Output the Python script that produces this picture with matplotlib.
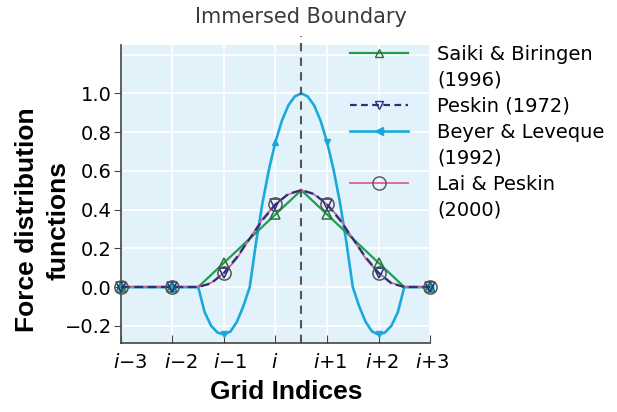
import numpy as np
import matplotlib.pyplot as plt
import matplotlib.transforms as mtransforms
from matplotlib.lines import Line2D
from matplotlib.ticker import FixedLocator

plt.rcParams['font.family'] = ['DejaVu Sans']
plt.rcParams['mathtext.fontset'] = 'custom'
plt.rcParams['mathtext.it'] = 'DejaVu Sans:italic'
plt.rcParams['mathtext.rm'] = 'DejaVu Sans'

# grid indices, i = 0
grid_pos = [-3, -2, -1, 0, 1, 2, 3]
tick_labels = [r'$i$−3', r'$i$−2', r'$i$−1', r'$i$', r'$i$+1', r'$i$+2', r'$i$+3']
boundary_x = 0.5

# Saiki & Biringen (1996) - hat function
saiki_x = [-3, -1.5, 0.5, 2.5, 3]
saiki_y = [0, 0, 0.5, 0, 0]
saiki_pts = [0, 0, 0.125, 0.375, 0.375, 0.125, 0]

# Peskin (1972) and Lai & Peskin (2000), sampled every 0.25 from i-1.5 to i+2.5
fine_x = [-3, -2] + list(np.arange(-1.5, 2.51, 0.25)) + [3]
peskin_y = [0, 0,
            0, 0.019, 0.073, 0.154, 0.25, 0.346, 0.427, 0.481, 0.5,
            0.481, 0.427, 0.346, 0.25, 0.154, 0.073, 0.019, 0,
            0]
peskin_pts = [0, 0, 0.073, 0.427, 0.427, 0.073, 0]
lai_y = [0, 0,
         0, 0.022, 0.073, 0.147, 0.25, 0.353, 0.427, 0.478, 0.5,
         0.478, 0.427, 0.353, 0.25, 0.147, 0.073, 0.022, 0,
         0]
lai_pts = [0, 0, 0.073, 0.427, 0.427, 0.073, 0]

# Beyer & Leveque (1992), sampled every 0.125
beyer_x = [-3, -2] + list(np.arange(-1.5, 2.51, 0.125)) + [3]
beyer_y = [0, 0,
           0, -0.13, -0.20, -0.235, -0.245, -0.23, -0.18, -0.10,
           0, 0.234, 0.438, 0.609, 0.75, 0.859, 0.938, 0.984, 1.0,
           0.984, 0.938, 0.859, 0.75, 0.609, 0.438, 0.234, 0,
           -0.10, -0.18, -0.23, -0.245, -0.235, -0.20, -0.13, 0,
           0]
beyer_pts = [0, 0, -0.245, 0.75, 0.75, -0.245, 0]
beyer_marks = ['o', 'o', 'v', '^', 'v', 'v', 'o']

green = '#1f9e4f'
navy = '#2b2f7c'
cyan = '#1ba9dc'
pink = '#d8609a'
gray = '#555555'

fig = plt.figure(figsize=(6.17, 4.12), dpi=100)
ax = fig.add_axes([0.196, 0.167, 0.501, 0.724])
ax.set_facecolor('#e2f2fb')

ax.plot(beyer_x, beyer_y, color=cyan, lw=1.9, zorder=3)
for xp, yp, m in zip(grid_pos, beyer_pts, beyer_marks):
    ax.plot(xp, yp, marker=m, color=cyan, ms=5, mec=cyan, zorder=4, clip_on=False)
ax.plot(saiki_x, saiki_y, color=green, lw=1.6, zorder=3)
ax.plot(grid_pos, saiki_pts, ls='none', marker='^', ms=6.5, mfc='none', mec='#2c6e3c', mew=1.1, zorder=5, clip_on=False)
ax.plot(fine_x, lai_y, color=pink, lw=1.3, zorder=3)
ax.plot(fine_x, peskin_y, color=navy, lw=1.6, ls=(0, (4, 2)), zorder=4)
ax.plot(grid_pos, peskin_pts, ls='none', marker='v', ms=6.5, mfc='none', mec=navy, mew=1.1, zorder=5, clip_on=False)
ax.plot(grid_pos, lai_pts, ls='none', marker='o', ms=9.5, mfc='none', mec=gray, mew=1.1, zorder=6, clip_on=False)

ax.axvline(boundary_x, ymin=0, ymax=1.03, color='#555555', lw=1.5, ls=(0, (4, 3)), clip_on=False, zorder=6)
ax.text(boundary_x, 1.095, 'Immersed Boundary', transform=ax.get_xaxis_transform(),
        ha='center', va='center', fontsize=15, color='#3a3a3a')

ax.set_xlim(-3, 3)
ax.set_ylim(-0.29, 1.25)
ax.set_xticks(grid_pos, tick_labels)
ax.xaxis.set_minor_locator(FixedLocator([boundary_x]))
ax.set_yticks([-0.2, 0.0, 0.2, 0.4, 0.6, 0.8, 1.0])
ax.yaxis.set_minor_locator(FixedLocator([1.2]))
ax.tick_params(axis='x', which='both', direction='in', length=6, color='#444444', labelsize=14, pad=7)
ax.tick_params(axis='y', which='major', direction='out', length=5, color='#444444', labelsize=14, pad=1.5)
ax.tick_params(axis='y', which='minor', length=0)
ax.grid(True, which='major', color='white', lw=1.2)
ax.grid(True, which='minor', axis='y', color='white', lw=1.2)
ax.set_axisbelow(True)
for s in ['top', 'right']:
    ax.spines[s].set_visible(False)
for s in ['left', 'bottom']:
    ax.spines[s].set_color('#444444')
    ax.spines[s].set_linewidth(1.2)

# small horizontal nudges of the x tick labels, as in the original figure
label_shift = [9, 9, 6, -1, 3, 4, 2]
for lab, dx in zip(ax.get_xticklabels(), label_shift):
    lab.set_transform(lab.get_transform() +
                      mtransforms.ScaledTranslation(dx / 100, 0, fig.dpi_scale_trans))

ax.set_xlabel('Grid Indices', fontsize=19, fontweight='bold', labelpad=6,
              family='Liberation Sans')
ax.xaxis.label.set_x(0.535)
ax.set_ylabel('Force distribution\nfunctions', fontsize=19, fontweight='bold', labelpad=-4,
              family='Liberation Sans', linespacing=1.4)
ax.yaxis.label.set_y(0.413)

blank = Line2D([], [], color='none')
handles = [
    Line2D([], [], color=green, lw=1.6, marker='^', ms=6, mfc='none', mec='#2c6e3c'),
    blank,
    Line2D([], [], color=navy, lw=1.6, ls=(0, (3, 2)), marker='v', ms=6, mfc='none', mec=navy),
    Line2D([], [], color=cyan, lw=1.9, marker='<', ms=6),
    blank,
    Line2D([], [], color=pink, lw=1.3, marker='o', ms=9.5, mfc='none', mec=gray),
    blank,
]
labels = ['Saiki & Biringen', '(1996)', 'Peskin (1972)', 'Beyer & Leveque', '(1992)',
          'Lai & Peskin', '(2000)']
ax.legend(handles, labels, loc='upper left', bbox_to_anchor=(0.741, 1.0), frameon=False,
          fontsize=14, handlelength=3.0, handletextpad=1.5, labelspacing=0.36,
          borderpad=0, borderaxespad=0)

fig.savefig('out.png', dpi=100)
